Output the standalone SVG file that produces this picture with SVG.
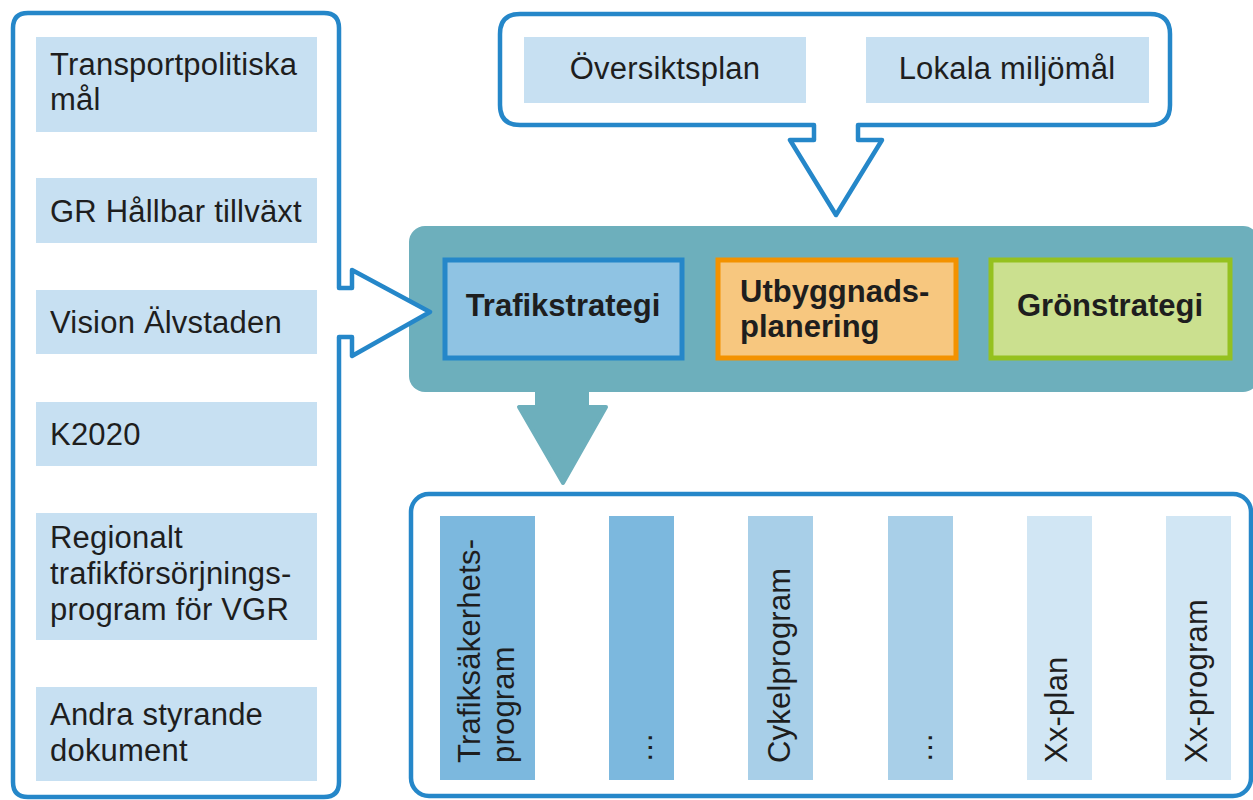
<svg xmlns="http://www.w3.org/2000/svg" width="1253" height="800" viewBox="0 0 1253 800">
<style>
.frame{fill:#fff;stroke:#2587C9;stroke-width:4.5;stroke-linejoin:round}
.lbox{fill:#C7E0F2}
.t{font-family:"Liberation Sans",Arial,sans-serif;font-size:31px;letter-spacing:0.2px;fill:#1e1e1e}
.b{font-weight:bold;letter-spacing:0}
.teal{fill:#6DAFBC}
.c1{fill:#7CB8DE}
.c2{fill:#A8CFE8}
.c3{fill:#D1E6F4}
</style>
<rect width="1253" height="800" fill="#fff"/>
<rect id="center-bg" class="teal" x="409" y="226" width="850" height="166" rx="16"/>
<g id="connectors">
<path id="arrow-left" class="frame" d="M28 13 H324 Q339 13 339 28 V288 H352 V270 L430 312 L352 356 V337 H339 V782 Q339 797 324 797 H28 Q13 797 13 782 V28 Q13 13 28 13 Z"/>
<path id="arrow-top" class="frame" d="M520 14 H1150 Q1170 14 1170 34 V105 Q1170 125 1150 125 H858 V140 H882 L836 215 L790 140 H814 V125 H520 Q500 125 500 105 V34 Q500 14 520 14 Z"/>
<path id="arrow-down" class="teal" stroke="#6DAFBC" stroke-width="4" stroke-linejoin="round" d="M537 388 H587 V407 H606 L563 483 L519 407 H537 Z"/>
</g>
<g id="left-group">
<g id="n-transport"><rect class="lbox" x="36" y="37" width="281" height="95"/><text class="t" x="50" y="75">Transportpolitiska</text><text class="t" x="50" y="110">mål</text></g>
<g id="n-gr"><rect class="lbox" x="36" y="178" width="281" height="65"/><text class="t" x="50" y="222">GR Hållbar tillväxt</text></g>
<g id="n-vision"><rect class="lbox" x="36" y="290" width="281" height="64"/><text class="t" x="50" y="333">Vision Älvstaden</text></g>
<g id="n-k2020"><rect class="lbox" x="36" y="402" width="281" height="64"/><text class="t" x="50" y="445">K2020</text></g>
<g id="n-regionalt"><rect class="lbox" x="36" y="513" width="281" height="127"/><text class="t" x="50" y="548">Regionalt</text><text class="t" x="50" y="584">trafikförsörjnings-</text><text class="t" x="50" y="620">program för VGR</text></g>
<g id="n-andra"><rect class="lbox" x="36" y="687" width="281" height="94"/><text class="t" x="50" y="725">Andra styrande</text><text class="t" x="50" y="761">dokument</text></g>
</g>
<g id="top-group">
<g id="n-oversikt"><rect class="lbox" x="524" y="37" width="282" height="66"/><text class="t" x="665" y="79" text-anchor="middle">Översiktsplan</text></g>
<g id="n-lokala"><rect class="lbox" x="866" y="37" width="283" height="66"/><text class="t" x="1007" y="79" text-anchor="middle">Lokala miljömål</text></g>
</g>
<g id="center-group">
<g id="n-trafikstrategi"><rect x="445" y="260" width="237" height="98" fill="#8FC3E3" stroke="#2587C9" stroke-width="5"/><text class="t b" x="563" y="316" text-anchor="middle">Trafikstrategi</text></g>
<g id="n-utbyggnad"><rect x="718" y="260" width="238" height="98" fill="#F7C77F" stroke="#F39200" stroke-width="5"/><text class="t b" x="740" y="302">Utbyggnads-</text><text class="t b" x="740" y="337">planering</text></g>
<g id="n-gron"><rect x="991" y="260" width="239" height="98" fill="#CBE08F" stroke="#95C11F" stroke-width="5"/><text class="t b" x="1110" y="316" text-anchor="middle">Grönstrategi</text></g>
</g>
<g id="bottom-group">
<rect class="frame" x="411" y="494" width="840" height="302" rx="18"/>
<g id="n-trafiksak"><rect class="c1" x="440" y="516" width="95" height="264"/><text class="t" transform="translate(480 763) rotate(-90)">Trafiksäkerhets-</text><text class="t" transform="translate(514 763) rotate(-90)">program</text></g>
<g id="n-dots1"><rect class="c1" x="609" y="516" width="65" height="264"/><text class="t" transform="translate(652 763) rotate(-90)">…</text></g>
<g id="n-cykel"><rect class="c2" x="748" y="516" width="65" height="264"/><text class="t" transform="translate(790 763) rotate(-90)">Cykelprogram</text></g>
<g id="n-dots2"><rect class="c2" x="888" y="516" width="65" height="264"/><text class="t" transform="translate(932 763) rotate(-90)">…</text></g>
<g id="n-xxplan"><rect class="c3" x="1027" y="516" width="65" height="264"/><text class="t" transform="translate(1067 763) rotate(-90)">Xx-plan</text></g>
<g id="n-xxprog"><rect class="c3" x="1166" y="516" width="65" height="264"/><text class="t" transform="translate(1207 763) rotate(-90)">Xx-program</text></g>
</g>
</svg>
